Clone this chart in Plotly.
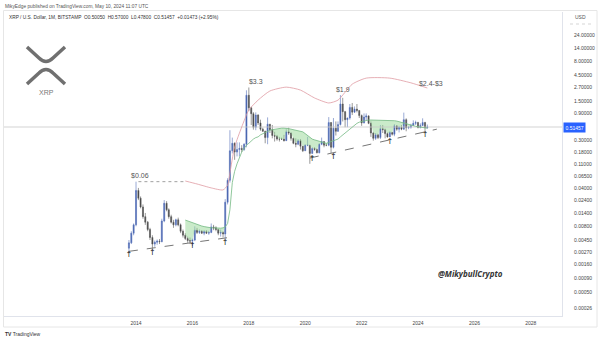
import math
import plotly.graph_objects as go

# ---------------- data (monthly candles, XRP/USD) ----------------
months = [f"{y}-{m:02d}-01" for y in range(2013, 2025) for m in range(1, 13)]
months = [d for d in months if "2013-10-01" <= d <= "2024-05-01"]

open_ = [
    .0032, .0040, .0060,  # 2013 Oct-Dec
    .0085, .036, .026, .018, .012, .0095, .0070, .0050, .0038, .0041, .0043, .0042,  # 2014
    .0100, .0210, .0160, .0120, .0095, .0085, .0105, .0085, .0065, .0055, .0048, .0044,  # 2015
    .0043, .0045, .0068, .0062, .0065, .0060, .0064, .0060, .0062, .0078, .0075, .0070,  # 2016
    .0060, .0062, .0058, .022, .055, .19, .26, .18, .20, .21, .20, .25,  # 2017
    1.95, 1.15, .90, .51, .85, .61, .47, .43, .33, .58, .46, .36,  # 2018
    .35, .31, .31, .31, .29, .42, .40, .32, .26, .25, .29, .23,  # 2019
    .19, .24, .24, .17, .21, .20, .175, .25, .28, .24, .24, .62,  # 2020
    .22, .49, .43, .57, 1.35, .98, .70, .75, 1.17, .96, 1.09, 1.03,  # 2021
    .83, .61, .78, .82, .60, .40, .32, .37, .33, .48, .46, .39,  # 2022
    .34, .41, .38, .54, .47, .51, .47, .70, .50, .51, .55, .60,  # 2023
    .62, .50, .55, .62, .5005,  # 2024
]
high = [
    .0045, .0065, .0090,
    .052, .040, .028, .020, .014, .010, .0075, .0055, .0044, .0046, .0047, .0110,
    .0240, .0230, .0170, .0130, .0105, .0110, .0115, .0090, .0070, .0060, .0052, .0050,
    .0048, .0080, .0075, .0070, .0068, .0068, .0068, .0066, .0090, .0085, .0080, .0072,
    .0070, .0065, .025, .060, .45, .33, .27, .27, .27, .24, .26, 2.40,
    2.70, 1.20, .96, .95, .88, .70, .50, .44, .77, .58, .56, .42,
    .37, .34, .33, .37, .47, .50, .41, .33, .32, .31, .31, .23,
    .25, .34, .24, .22, .22, .21, .26, .33, .28, .26, .78, .63,
    .75, .65, .65, 1.96, 1.75, 1.01, .76, 1.35, 1.41, 1.22, 1.35, 1.03,
    .87, .91, .91, .84, .65, .42, .40, .39, .56, .56, .48, .41,
    .43, .42, .58, .55, .54, .56, .94, .74, .53, .59, .68, .67,
    .64, .60, .74, .64, .57,
]
low = [
    .0026, .0038, .0055,
    .0080, .024, .017, .011, .0085, .0065, .0045, .0030, .0034, .0037, .0038, .0041,
    .0095, .0150, .0110, .0090, .0075, .0080, .0080, .0060, .0050, .0045, .0040, .0038,
    .0035, .0043, .0058, .0058, .0058, .0055, .0058, .0056, .0060, .0068, .0065, .0055,
    .0052, .0050, .0046, .020, .050, .17, .13, .15, .15, .18, .19, .22,
    1.00, .56, .46, .45, .56, .44, .42, .26, .25, .40, .32, .28,
    .29, .28, .30, .28, .29, .37, .29, .25, .22, .24, .20, .18,
    .19, .23, .11, .17, .19, .17, .17, .24, .22, .23, .23, .17,
    .21, .36, .42, .55, .65, .51, .51, .70, .85, .93, .95, .75,
    .54, .60, .69, .58, .34, .29, .30, .31, .31, .40, .32, .33,
    .34, .36, .35, .44, .41, .45, .46, .43, .47, .48, .55, .56,
    .49, .49, .54, .42, .478,
]
close = [
    .0040, .0060, .0085,
    .036, .026, .018, .012, .0095, .0070, .0050, .0038, .0041, .0043, .0042, .0100,
    .0210, .0160, .0120, .0095, .0085, .0105, .0085, .0065, .0055, .0048, .0044, .0043,
    .0045, .0068, .0062, .0065, .0060, .0064, .0060, .0062, .0078, .0075, .0070, .0060,
    .0062, .0058, .022, .055, .19, .26, .18, .20, .21, .20, .25, 1.95,
    1.15, .90, .51, .85, .61, .47, .43, .33, .58, .46, .36, .35,
    .31, .31, .31, .29, .42, .40, .32, .26, .25, .29, .23, .19,
    .24, .24, .17, .21, .20, .175, .25, .28, .24, .24, .62, .22,
    .49, .43, .57, 1.35, .98, .70, .75, 1.17, .96, 1.09, 1.03, .83,
    .61, .78, .82, .60, .40, .32, .37, .33, .48, .46, .39, .34,
    .41, .38, .54, .47, .51, .47, .70, .50, .51, .55, .60, .62,
    .50, .55, .62, .50, .51457,
]
assert len(open_) == len(high) == len(low) == len(close) == len(months)

# green basis line (monthly, from 2015-10)
green_start = months.index("2015-10-01")
green = [
    .0104, .0100, .0096,  # 2015
    .0092, .0090, .0087, .0084, .0081, .0079, .0077, .0076, .0075, .0075, .0074, .0074,  # 2016
    .0074, .0075, .0078, .0090, .0160, .050, .080, .110, .145, .18, .21, .24,  # 2017
    .26, .29, .31, .33, .34, .37, .39, .41, .44, .45, .46, .47,  # 2018
    .48, .49, .49, .49, .49, .48, .47, .46, .45, .44, .43, .42,  # 2019
    .39, .36, .33, .31, .30, .29, .28, .27, .265, .26, .27, .28,  # 2020
    .29, .30, .31, .34, .37, .40, .43, .47, .52, .56, .60, .63,  # 2021
    .65, .67, .68, .69, .69, .69, .69, .69, .69, .69, .69, .69,  # 2022
    .69, .68, .67, .66, .64, .63, .61, .60, .58, .56, .54, .53,  # 2023
    .52, .51, .50, .49, .49,  # 2024
]
green_dates = months[green_start:]
assert len(green) == len(green_dates)

# red upper band (read at key points)
red_dates = ["2015-10-01", "2016-03-01", "2016-09-01", "2017-02-01", "2017-04-01", "2017-05-01",
             "2017-07-01", "2017-10-01", "2018-01-01", "2018-05-01", "2018-10-01", "2019-05-01",
             "2019-11-01", "2020-05-01", "2020-11-01", "2021-03-01", "2021-09-01", "2022-03-01",
             "2023-01-01", "2023-10-01", "2024-05-01"]
red_vals = [.0535, .0472, .040, .0368, .045, .075, .222, .515, 1.05, 1.59, 2.33, 2.74,
            2.42, 1.74, 1.41, 1.59, 3.1, 4.0, 4.0, 3.28, 2.64]

# drawn support lines and the $0.06 level
sup1_dates = ["2013-10-01", "2017-06-01"]
sup1_vals = [.0028, .0051]
sup2_dates = ["2020-03-01", "2024-09-01"]
sup2_vals = [.14, .47]
peak_dates = ["2014-02-01", "2015-10-01"]
peak_vals = [.052, .052]

# arrows at lows
arrow_dates = ["2013-10-01", "2014-08-01", "2016-01-01", "2017-03-01",
               "2020-04-01", "2021-01-01", "2023-01-01", "2024-04-01"]
arrow_vals = [.0024, .0026, .0035, .0040, .134, .146, .274, .368]

# price labels
label_texts = ["$0.06", "$3.3", "$1.9", "$2.4-$3"]
label_dates = ["2014-02-20", "2018-04-01", "2021-05-01", "2024-06-15"]
label_vals = [.066, 3.40, 2.43, 3.12]

ytick_text = ["24.00000", "14.00000", "8.00000", "4.50000", "2.70000", "1.50000", "0.90000",
              "0.30000", "0.18000", "0.11000", "0.06500", "0.04000", "0.02400", "0.01400",
              "0.00800", "0.00450", "0.00270", "0.00160", "0.00090", "0.00050", "0.00026", "0.00012"]
ytick_vals = [float(t) for t in ytick_text]
xtick_years = list(range(2014, 2029, 2))

# ---------------- geometry helpers ----------------
L, R, T, B = 4, 562, 12, 316
W, H = R - L, B - T


def px(x):
    return (x - L) / W


def py(y):
    return (B - y) / H


def P(x, y):
    return f"{px(x):.4f},{py(y):.4f}"


# ---------------- figure ----------------
fig = go.Figure()

body_top = [max(o, c) for o, c in zip(open_[green_start:], close[green_start:])]
fill_low = [min(g, b) for g, b in zip(green, body_top)]

fig.add_trace(go.Scatter(x=green_dates, y=green, mode="lines", line=dict(width=0, color="#7cc08a"),
                         showlegend=False, hoverinfo="skip"))
fig.add_trace(go.Scatter(x=green_dates, y=fill_low, mode="lines", line=dict(width=0),
                         fill="tonexty", fillcolor="rgba(150,215,150,0.5)",
                         showlegend=False, hoverinfo="skip"))

# price line
fig.add_trace(go.Scatter(x=["2009-01-01", "2030-01-01"], y=[close[-1], close[-1]], mode="lines",
                         line=dict(color="#c8c8c8", width=0.8), showlegend=False, hoverinfo="skip"))

fig.add_trace(go.Candlestick(
    x=months, open=open_, high=high, low=low, close=close,
    increasing=dict(line=dict(color="#5570b8", width=0.6), fillcolor="#3b5aa8"),
    decreasing=dict(line=dict(color="#555555", width=0.6), fillcolor="#3a3a3a"),
    whiskerwidth=0, showlegend=False, hoverinfo="skip"))

fig.add_trace(go.Scatter(x=green_dates, y=green, mode="lines", line=dict(width=0.8, color="#74b983"),
                         showlegend=False, hoverinfo="skip"))
fig.add_trace(go.Scatter(x=red_dates, y=red_vals, mode="lines",
                         line=dict(width=0.8, color="#df9aa2", shape="spline", smoothing=0.6),
                         showlegend=False, hoverinfo="skip"))

for xd, yv in ((sup1_dates, sup1_vals), (sup2_dates, sup2_vals)):
    fig.add_trace(go.Scatter(x=xd, y=yv, mode="lines", line=dict(width=0.9, color="#666", dash="dash"),
                             showlegend=False, hoverinfo="skip"))
fig.add_trace(go.Scatter(x=peak_dates, y=peak_vals, mode="lines", line=dict(width=0.8, color="#888", dash="dot"),
                         showlegend=False, hoverinfo="skip"))

fig.add_trace(go.Scatter(x=arrow_dates, y=arrow_vals, mode="text", text=["↑"] * len(arrow_dates),
                         textfont=dict(size=8, color="#222", family="DejaVu Sans"),
                         showlegend=False, hoverinfo="skip"))
fig.add_trace(go.Scatter(x=label_dates, y=label_vals, mode="text", text=label_texts,
                         textfont=dict(size=7, color="#555", family="Liberation Sans"),
                         showlegend=False, hoverinfo="skip"))

# ---------------- decorations ----------------
shapes = [
    dict(type="rect", xref="paper", yref="paper", x0=px(3.5), x1=px(597), y0=py(327), y1=py(10.5),
         line=dict(color="#e6e6e6", width=1), layer="below"),
    dict(type="line", xref="paper", yref="paper", x0=px(570), x1=px(593), y0=py(24), y1=py(24),
         line=dict(color="#bbbbbb", width=0.6, dash="dot")),
    dict(type="path", xref="paper", yref="paper",
         path=f"M {P(27,47)} L {P(39,58)} Q {P(46,65)} {P(53,58)} L {P(65,47)}",
         line=dict(color="#707070", width=3.5)),
    dict(type="path", xref="paper", yref="paper",
         path=f"M {P(27,84)} L {P(39,73)} Q {P(46,66)} {P(53,73)} L {P(65,84)}",
         line=dict(color="#707070", width=3.5)),
]

annotations = [
    dict(text="MikyEdge published on TradingView.com, May 10, 2024 11:07 UTC", xref="paper", yref="paper",
         x=px(3), y=py(6), xanchor="left", yanchor="middle", showarrow=False,
         font=dict(size=4.8, color="#555", family="Liberation Sans")),
    dict(text="XRP / U.S. Dollar, 1M, BITSTAMP  O0.50050  H0.57000  L0.47800  C0.51457  +0.01473 (+2.95%)",
         xref="paper", yref="paper", x=px(7), y=py(17), xanchor="left", yanchor="middle", showarrow=False,
         font=dict(size=4.8, color="#333", family="Liberation Sans")),
    dict(text="USD", xref="paper", yref="paper", x=px(580), y=py(17), xanchor="center", yanchor="middle",
         showarrow=False, font=dict(size=5, color="#555", family="Liberation Sans")),
    dict(text=f"{close[-1]:.5f}", xref="paper", yref="y", x=1, xshift=1, y=math.log10(close[-1]),
         xanchor="left", yanchor="middle", showarrow=False, bgcolor="#2962ff", borderpad=1.5,
         font=dict(size=5, color="white", family="Liberation Sans")),
    dict(text="XRP", xref="paper", yref="paper", x=px(46), y=py(92), xanchor="center", yanchor="middle",
         showarrow=False, font=dict(size=7, color="#777", family="Liberation Sans")),
    dict(text="<b><i>@MikybullCrypto</i></b>", xref="paper", yref="paper", x=px(470), y=py(273),
         xanchor="center", yanchor="middle", showarrow=False,
         font=dict(size=8, color="#333", family="Open Sans")),
    dict(text="<b>TV</b> TradingView", xref="paper", yref="paper", x=px(3), y=py(334),
         xanchor="left", yanchor="middle", showarrow=False,
         font=dict(size=5, color="#333", family="Liberation Sans")),
]

fig.update_layout(
    width=600, height=341,
    margin=dict(l=L, r=600 - R, t=T, b=341 - B),
    paper_bgcolor="white", plot_bgcolor="white",
    showlegend=False,
    shapes=shapes, annotations=annotations,
    xaxis=dict(type="date", range=["2009-04-27", "2029-02-08"],
               tickvals=[f"{y}-01-01" for y in xtick_years], ticktext=[str(y) for y in xtick_years],
               showgrid=False, zeroline=False, showline=True, linecolor="#e0e3eb", linewidth=1,
               ticks="", ticklabelstandoff=2, tickfont=dict(size=5, color="#444", family="Liberation Sans"),
               rangeslider=dict(visible=False), fixedrange=True),
    yaxis=dict(type="log", range=[-3.7305, 1.806], side="right",
               tickvals=ytick_vals, ticktext=ytick_text,
               showgrid=False, zeroline=False, showline=True, linecolor="#e0e3eb", linewidth=1,
               ticks="", ticklabelstandoff=10, tickfont=dict(size=5, color="#444", family="Liberation Sans"),
               fixedrange=True),
)

fig.write_html("out.html")
